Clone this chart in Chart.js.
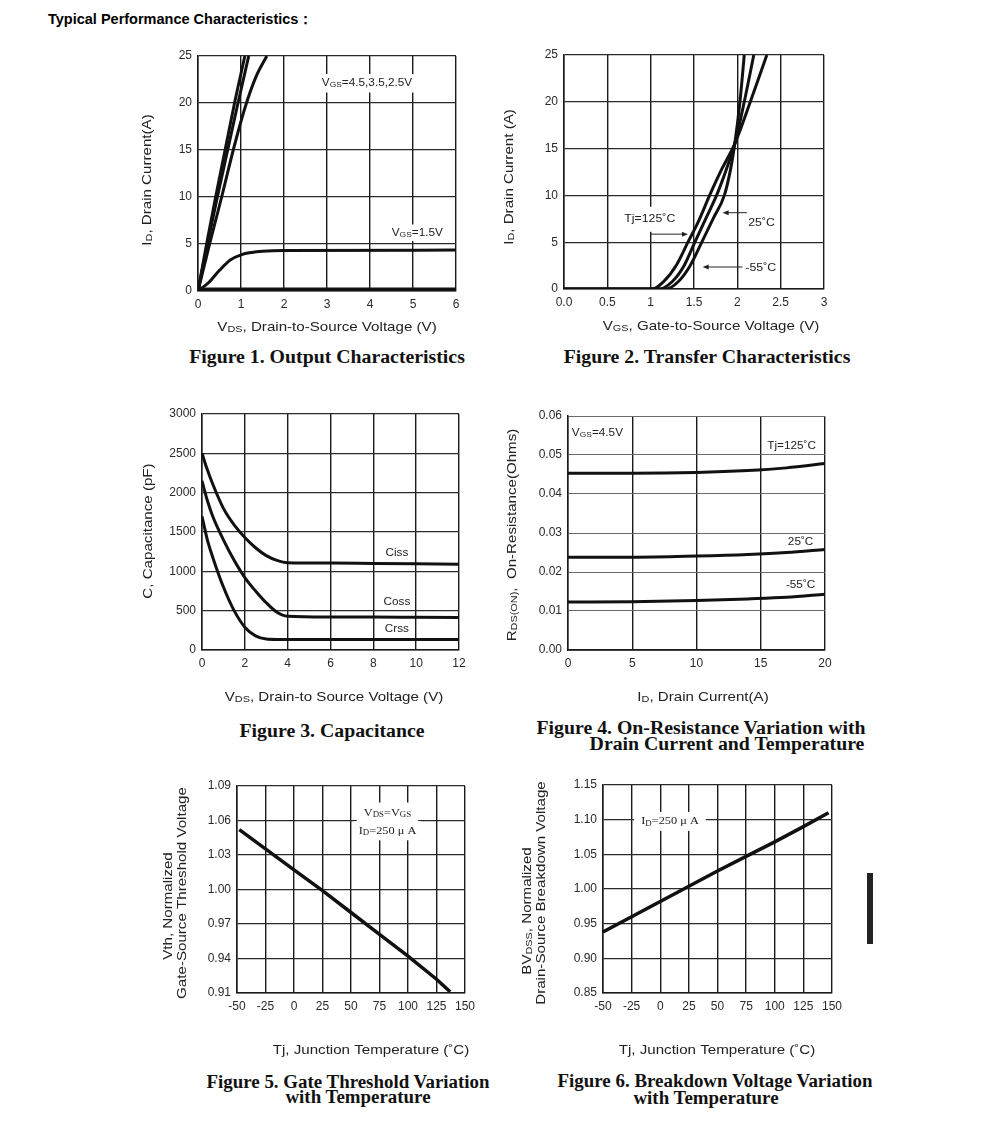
<!DOCTYPE html>
<html>
<head>
<meta charset="utf-8">
<script src="https://cdn.jsdelivr.net/npm/chart.js@4.4.1/dist/chart.umd.min.js"></script>
<style>
body{margin:0;background:#fff;width:991px;height:1130px;position:relative;overflow:hidden}
canvas{position:absolute}
.cap{position:absolute;font:bold 18px "Liberation Serif",serif;white-space:nowrap;transform:translate(-50%,-50%) scaleX(1.1);color:#111}
.cap.n{transform:translate(-50%,-50%) scaleX(1.05)}
#hdr{position:absolute;left:48px;top:10px;font:bold 14.5px "Liberation Sans",Arial,sans-serif;color:#000}
#bar{position:absolute;left:867px;top:873px;width:6px;height:71px;background:#222}
</style>
</head>
<body>
<div id="hdr">Typical Performance Characteristics：</div>
<canvas id="c1"></canvas><canvas id="c2"></canvas>
<canvas id="c3"></canvas><canvas id="c4"></canvas>
<canvas id="c5"></canvas><canvas id="c6"></canvas>
<div class="cap" style="left:327px;top:357px">Figure 1. Output Characteristics</div>
<div class="cap" style="left:707px;top:357px">Figure 2. Transfer Characteristics</div>
<div class="cap" style="left:332px;top:731px">Figure 3. Capacitance</div>
<div class="cap" style="left:701px;top:728px">Figure 4. On-Resistance Variation with</div>
<div class="cap" style="left:727px;top:744px">Drain Current and Temperature</div>
<div class="cap n" style="left:348px;top:1082px">Figure 5. Gate Threshold Variation</div>
<div class="cap n" style="left:358px;top:1097px">with Temperature</div>
<div class="cap n" style="left:715px;top:1081px">Figure 6. Breakdown Voltage Variation</div>
<div class="cap n" style="left:706px;top:1098px">with Temperature</div>
<div id="bar"></div>
<script>
// ---- Figure 1: output characteristics ----
const f1XTicks = [0, 1, 2, 3, 4, 5, 6];
const f1YTicks = [0, 5, 10, 15, 20, 25];
const f1Vds45 = [0, 0.2, 0.41, 0.63, 0.85, 1.09];
const f1Id45 = [0, 5, 10, 15, 20, 25];
const f1Vds35 = [0, 0.22, 0.45, 0.69, 0.93, 1.18];
const f1Id35 = [0, 5, 10, 15, 20, 25];
const f1Vds25 = [0, 0.27, 0.55, 0.82, 1.1, 1.35, 1.6];
const f1Id25 = [0, 5, 10, 15, 19.6, 22.8, 25];
const f1Vds15 = [0, 0.25, 0.5, 0.75, 1.0, 1.25, 1.5, 2, 6];
const f1Id15 = [0, 0.9, 2.2, 3.3, 3.85, 4.1, 4.22, 4.3, 4.35];
const f1Vds10 = [0, 6];
const f1Id10 = [0.2, 0.2];

// ---- Figure 2: transfer characteristics ----
const f2XTicks = [0, 0.5, 1, 1.5, 2, 2.5, 3];
const f2XLabels = ['0.0', '0.5', '1', '1.5', '2', '2.5', '3'];
const f2YTicks = [0, 5, 10, 15, 20, 25];
const f2Vgs125 = [0, 1.02, 1.15, 1.3, 1.43, 1.55, 1.68, 1.82, 1.97, 2.15, 2.34];
const f2Id125 = [0, 0, 0.8, 2.6, 5, 7.2, 10, 12.8, 15.5, 20, 25];
const f2Vgs25 = [0, 1.1, 1.25, 1.38, 1.51, 1.64, 1.76, 1.87, 1.97, 2.08, 2.19];
const f2Id25 = [0, 0, 0.8, 2.4, 5, 7.6, 10, 12.7, 15.5, 20, 25];
const f2VgsM55 = [0, 1.18, 1.32, 1.45, 1.59, 1.72, 1.85, 1.92, 1.97, 2.03, 2.08];
const f2IdM55 = [0, 0, 0.8, 2.4, 5, 7.5, 10, 12.7, 15.5, 20, 25];

// ---- Figure 3: capacitance ----
const f3XTicks = [0, 2, 4, 6, 8, 10, 12];
const f3YTicks = [0, 500, 1000, 1500, 2000, 2500, 3000];
const f3Vds = [0, 0.25, 0.5, 1, 1.5, 2, 2.5, 3, 3.5, 4, 6, 8, 10, 12];
const f3Ciss = [2500, 2290, 2110, 1800, 1590, 1430, 1300, 1200, 1140, 1110, 1105, 1100, 1095, 1090];
const f3Coss = [2150, 1900, 1700, 1400, 1140, 920, 750, 600, 480, 430, 420, 418, 415, 412];
const f3Crss = [1700, 1400, 1180, 800, 500, 290, 180, 140, 135, 135, 135, 135, 135, 135];

// ---- Figure 4: on-resistance ----
const f4XTicks = [0, 5, 10, 15, 20];
const f4YTicks = [0, 0.01, 0.02, 0.03, 0.04, 0.05, 0.06];
const f4YLabels = ['0.00', '0.01', '0.02', '0.03', '0.04', '0.05', '0.06'];
const f4Id = [0, 5, 10, 14, 17, 20];
const f4R125 = [0.0453, 0.0453, 0.0455, 0.0460, 0.0467, 0.0478];
const f4R25 = [0.0238, 0.0238, 0.0241, 0.0245, 0.0250, 0.0258];
const f4RM55 = [0.0123, 0.0124, 0.0127, 0.0131, 0.0135, 0.0143];

// ---- Figure 5: gate threshold vs temperature ----
const f5XTicks = [-50, -25, 0, 25, 50, 75, 100, 125, 150];
const f5YTicks = [0.91, 0.94, 0.97, 1.00, 1.03, 1.06, 1.09];
const f5YLabels = ['0.91', '0.94', '0.97', '1.00', '1.03', '1.06', '1.09'];
const f5Tj = [-48, 0, 25, 50, 75, 100, 125, 137];
const f5Vth = [1.052, 1.017, 0.999, 0.980, 0.961, 0.942, 0.922, 0.911];

// ---- Figure 6: breakdown voltage vs temperature ----
const f6XTicks = [-50, -25, 0, 25, 50, 75, 100, 125, 150];
const f6YTicks = [0.85, 0.90, 0.95, 1.00, 1.05, 1.10, 1.15];
const f6YLabels = ['0.85', '0.90', '0.95', '1.00', '1.05', '1.10', '1.15'];
const f6Tj = [-50, 0, 25, 50, 75, 100, 125, 147];
const f6Bv = [0.938, 0.982, 1.004, 1.026, 1.047, 1.068, 1.090, 1.110];

const SANS = '"Liberation Sans", Arial, sans-serif';
const SERIF = '"Liberation Serif", "Times New Roman", serif';
const STRETCH = 1.12; // the scan is a bit wider than the fonts

function pts(xs, ys) { return xs.map((x, i) => ({x: x, y: ys[i]})); }

// "V_{DS}" -> segments with subscripts
function segs(str) {
  const out = [], re = /_\{([^}]*)\}/g;
  let last = 0, m;
  while ((m = re.exec(str))) {
    if (m.index > last) out.push({t: str.slice(last, m.index), s: false});
    out.push({t: m[1], s: true});
    last = re.lastIndex;
  }
  if (last < str.length) out.push({t: str.slice(last), s: false});
  return out;
}
function fontOf(sub, size, fam) { return (sub ? size * 0.72 : size) + 'px ' + fam; }
function richWidth(ctx, str, size, fam) {
  let w = 0;
  segs(str).forEach(p => { ctx.font = fontOf(p.s, size, fam); w += ctx.measureText(p.t).width; });
  return w * STRETCH;
}
function drawRich(ctx, str, x, y, size, fam) {
  ctx.save();
  ctx.translate(x, y);
  ctx.scale(STRETCH, 1);
  ctx.textBaseline = 'middle';
  ctx.textAlign = 'left';
  let cx = 0;
  segs(str).forEach(p => {
    ctx.font = fontOf(p.s, size, fam);
    ctx.fillText(p.t, cx, p.s ? size * 0.2 : 0);
    cx += ctx.measureText(p.t).width;
  });
  ctx.restore();
}

const deco = {
  id: 'deco',
  beforeDatasetsDraw(chart, args, o) {
    const ctx = chart.ctx, xs = chart.scales.x, ys = chart.scales.y;
    (o.notes || []).forEach(n => {
      const size = n.size || 10, fam = n.fam || SANS;
      const px = xs.getPixelForValue(n.x), py = ys.getPixelForValue(n.y);
      const w = richWidth(ctx, n.text, size, fam);
      const left = n.align === 'left' ? px : px - w / 2;
      ctx.save();
      if (n.box) {
        ctx.fillStyle = '#fff';
        ctx.fillRect(left - n.box[0], py - size / 2 - n.box[1], w + 2 * n.box[0], size + 2 * n.box[1]);
      }
      ctx.fillStyle = '#222';
      drawRich(ctx, n.text, left, py, size, fam);
      ctx.restore();
    });
    (o.arrows || []).forEach(a => {
      const x1 = xs.getPixelForValue(a.from), x2 = xs.getPixelForValue(a.to), y = ys.getPixelForValue(a.y);
      const dir = x2 > x1 ? 1 : -1;
      ctx.save();
      ctx.strokeStyle = '#222';
      ctx.fillStyle = '#222';
      ctx.lineWidth = 1;
      ctx.beginPath(); ctx.moveTo(x1, y); ctx.lineTo(x2 - dir * 4, y); ctx.stroke();
      ctx.beginPath(); ctx.moveTo(x2, y); ctx.lineTo(x2 - dir * 6, y - 2.5); ctx.lineTo(x2 - dir * 6, y + 2.5); ctx.closePath(); ctx.fill();
      ctx.restore();
    });
  },
  afterDraw(chart, args, o) {
    const ctx = chart.ctx, ox = o.origin[0], oy = o.origin[1];
    ctx.save();
    ctx.fillStyle = '#222';
    const t = o.xTitle;
    drawRich(ctx, t.text, t.x - ox - richWidth(ctx, t.text, 13.5, SANS) / 2, t.y - oy, 13.5, SANS);
    o.yTitle.forEach(l => {
      ctx.save();
      ctx.translate(l.x - ox, l.y - oy);
      ctx.rotate(-Math.PI / 2);
      drawRich(ctx, l.text, -richWidth(ctx, l.text, 13.5, SANS) / 2, 0, 13.5, SANS);
      ctx.restore();
    });
    ctx.restore();
  }
};

function makeChart(id, box, plot, ax, ay, sets, opts) {
  const cv = document.getElementById(id);
  cv.width = box.w; cv.height = box.h;
  cv.style.left = box.x + 'px'; cv.style.top = box.y + 'px';
  const xH = box.y + box.h - plot.b, yW = plot.l - box.x;
  const tickFont = {family: SANS, size: 12};
  return new Chart(cv, {
    type: 'scatter',
    data: {
      datasets: sets.map(s => ({
        label: s.label, data: s.data, showLine: true, borderColor: '#111',
        borderWidth: s.w || 3, pointRadius: 0, fill: false,
        cubicInterpolationMode: opts.straight ? 'default' : 'monotone', tension: 0
      }))
    },
    options: {
      responsive: false, animation: false, devicePixelRatio: 1,
      layout: {autoPadding: false, padding: {top: plot.t - box.y, right: box.x + box.w - plot.r, left: 0, bottom: 0}},
      plugins: {legend: {display: false}, tooltip: {enabled: false}, deco: Object.assign({origin: [box.x, box.y]}, opts)},
      scales: {
        x: {
          type: 'linear', min: ax.ticks[0], max: ax.ticks[ax.ticks.length - 1],
          afterBuildTicks: s => { s.ticks = ax.ticks.map(v => ({value: v})); },
          afterFit: s => { s.height = xH; s.paddingLeft = 0; s.paddingRight = 0; },
          ticks: {autoSkip: false, maxRotation: 0, padding: 6, color: '#2a2a2a', font: tickFont,
            callback: (v, i) => ax.labels ? ax.labels[i] : String(v)},
          grid: {color: ax.grid || '#1a1a1a', lineWidth: ax.gw || 1.4, drawTicks: false},
          border: {color: '#1a1a1a', width: 1.5}
        },
        y: {
          type: 'linear', min: ay.ticks[0], max: ay.ticks[ay.ticks.length - 1],
          afterBuildTicks: s => { s.ticks = ay.ticks.map(v => ({value: v})); },
          afterFit: s => { s.width = yW; s.paddingTop = 0; s.paddingBottom = 0; },
          ticks: {autoSkip: false, padding: 6, color: '#2a2a2a', font: tickFont,
            callback: (v, i) => ay.labels ? ay.labels[i] : String(v)},
          grid: {color: ay.grid || '#2a2a2a', lineWidth: ay.gw || 1.2, drawTicks: false},
          border: {color: '#1a1a1a', width: 1.5}
        }
      }
    },
    plugins: [deco]
  });
}

makeChart('c1', {x: 120, y: 45, w: 350, h: 300}, {l: 198, t: 56, r: 456, b: 291},
  {ticks: f1XTicks}, {ticks: f1YTicks},
  [
    {label: 'VGS=4.5V', data: pts(f1Vds45, f1Id45)},
    {label: 'VGS=3.5V', data: pts(f1Vds35, f1Id35)},
    {label: 'VGS=2.5V', data: pts(f1Vds25, f1Id25)},
    {label: 'VGS=1.5V', data: pts(f1Vds15, f1Id15)},
    {label: 'VGS=1V', data: pts(f1Vds10, f1Id10)}
  ],
  {
    notes: [
      {x: 3.93, y: 22.1, text: 'V_{GS}=4.5,3.5,2.5V', size: 10.5, box: [3, 4]},
      {x: 5.1, y: 6.2, text: 'V_{GS}=1.5V', size: 10.5, box: [3, 3]}
    ],
    xTitle: {text: 'V_{DS}, Drain-to-Source Voltage (V)', x: 327, y: 327},
    yTitle: [{text: 'I_{D}, Drain Current(A)', x: 147, y: 180}]
  });

makeChart('c2', {x: 485, y: 45, w: 350, h: 300}, {l: 564, t: 55, r: 824, b: 289},
  {ticks: f2XTicks, labels: f2XLabels}, {ticks: f2YTicks},
  [
    {label: 'Tj=125°C', data: pts(f2Vgs125, f2Id125)},
    {label: 'Tj=25°C', data: pts(f2Vgs25, f2Id25)},
    {label: 'Tj=-55°C', data: pts(f2VgsM55, f2IdM55)}
  ],
  {
    notes: [
      {x: 0.99, y: 7.45, text: 'Tj=125˚C', size: 11, box: [3, 7]},
      {x: 2.28, y: 7.05, text: '25˚C', size: 11, box: [2, 2]},
      {x: 2.27, y: 2.25, text: '-55˚C', size: 11, box: [2, 2]}
    ],
    arrows: [
      {from: 1.0, to: 1.43, y: 5.86},
      {from: 2.11, to: 1.83, y: 8.15},
      {from: 2.06, to: 1.6, y: 2.35}
    ],
    xTitle: {text: 'V_{GS}, Gate-to-Source Voltage (V)', x: 711, y: 326},
    yTitle: [{text: 'I_{D}, Drain Current (A)', x: 509, y: 177}]
  });

makeChart('c3', {x: 120, y: 405, w: 350, h: 305}, {l: 202, t: 414, r: 459, b: 650},
  {ticks: f3XTicks}, {ticks: f3YTicks},
  [
    {label: 'Ciss', data: pts(f3Vds, f3Ciss)},
    {label: 'Coss', data: pts(f3Vds, f3Coss)},
    {label: 'Crss', data: pts(f3Vds, f3Crss)}
  ],
  {
    notes: [
      {x: 9.1, y: 1235, text: 'Ciss', size: 10.5},
      {x: 9.1, y: 610, text: 'Coss', size: 10.5},
      {x: 9.1, y: 270, text: 'Crss', size: 10.5}
    ],
    xTitle: {text: 'V_{DS}, Drain-to Source Voltage (V)', x: 334, y: 697},
    yTitle: [{text: 'C, Capacitance (pF)', x: 148, y: 531}]
  });

makeChart('c4', {x: 485, y: 405, w: 350, h: 305}, {l: 568, t: 416, r: 825, b: 650},
  {ticks: f4XTicks}, {ticks: f4YTicks, labels: f4YLabels, grid: '#6a6a6a', gw: 1},
  [
    {label: 'Tj=125°C', data: pts(f4Id, f4R125)},
    {label: '25°C', data: pts(f4Id, f4R25)},
    {label: '-55°C', data: pts(f4Id, f4RM55)}
  ],
  {
    notes: [
      {x: 0.3, y: 0.0557, text: 'V_{GS}=4.5V', size: 10.5, align: 'left'},
      {x: 17.4, y: 0.0523, text: 'Tj=125˚C', size: 10.5},
      {x: 18.1, y: 0.0277, text: '25˚C', size: 10.5},
      {x: 18.1, y: 0.0167, text: '-55˚C', size: 10.5}
    ],
    xTitle: {text: 'I_{D}, Drain Current(A)', x: 703, y: 697},
    yTitle: [{text: 'R_{DS(ON)},  On-Resistance(Ohms)', x: 512, y: 535}]
  });

makeChart('c5', {x: 145, y: 775, w: 350, h: 290}, {l: 237, t: 786, r: 465, b: 993},
  {ticks: f5XTicks}, {ticks: f5YTicks, labels: f5YLabels},
  [{label: 'Vth', data: pts(f5Tj, f5Vth), w: 3.5}],
  {
    straight: true,
    notes: [
      {x: 82, y: 1.0665, text: 'V_{DS}=V_{GS}', size: 11, fam: SERIF, box: [7, 5]},
      {x: 82, y: 1.051, text: 'I_{D}=250 μ A', size: 11, fam: SERIF, box: [5, 4]}
    ],
    xTitle: {text: 'Tj, Junction Temperature (˚C)', x: 371, y: 1050},
    yTitle: [
      {text: 'Vth, Normalized', x: 168, y: 906},
      {text: 'Gate-Source Threshold Voltage', x: 182, y: 893}
    ]
  });

makeChart('c6', {x: 505, y: 775, w: 345, h: 290}, {l: 603, t: 785, r: 832, b: 993},
  {ticks: f6XTicks}, {ticks: f6YTicks, labels: f6YLabels},
  [{label: 'BVDSS', data: pts(f6Tj, f6Bv), w: 3.5}],
  {
    straight: true,
    notes: [
      {x: 8.5, y: 1.0975, text: 'I_{D}=250 μ A', size: 11, fam: SERIF, box: [7, 4]}
    ],
    xTitle: {text: 'Tj, Junction Temperature (˚C)', x: 717, y: 1050},
    yTitle: [
      {text: 'BV_{DSS}, Normalized', x: 527, y: 911},
      {text: 'Drain-Source Breakdown Voltage', x: 541, y: 893}
    ]
  });
</script>
</body>
</html>
